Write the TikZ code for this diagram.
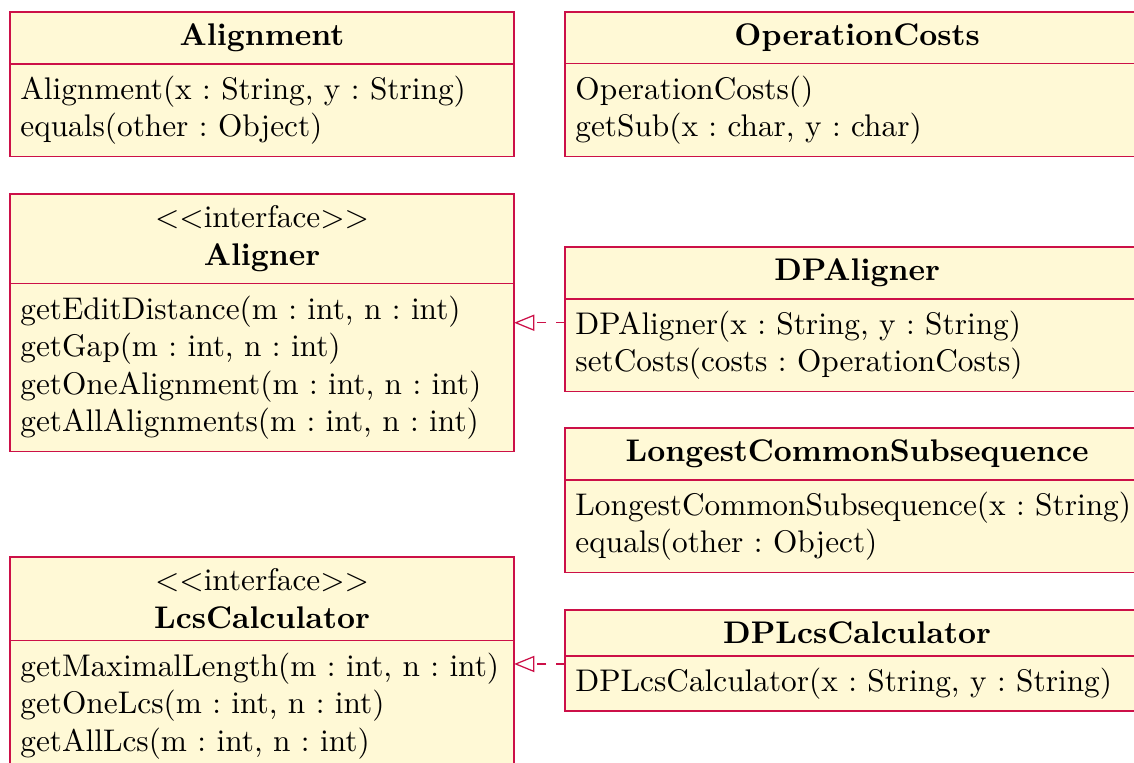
\documentclass[tikz,border=0pt]{standalone}
\usepackage{amsmath,amssymb}
\usepackage{xcolor}
\usepackage{tikz}
\usetikzlibrary{shapes, positioning, calc, arrows.meta}
\definecolor{umlfill}{RGB}{255,249,214}
\definecolor{umldraw}{RGB}{204,16,72}
\newlength{\LeftWidth}
\setlength\LeftWidth{154.4pt}
\newlength{\RightWidth}
\setlength\RightWidth{180pt}
\frenchspacing

\begin{document}
\begin{tikzpicture}[
    x = 0.3195pt, y = -0.3195pt,
    classhead/.style = {
      rectangle, draw = umldraw, fill = umlfill, thin, outer sep = 0pt,
      inner xsep = 3.33pt, inner ysep = 3.8pt,
      align = center, anchor = north west, text width = #1
    },
    classbody/.style = {
      rectangle, draw = umldraw, fill = umlfill, thin, outer sep = 0pt,
      inner xsep = 3.33pt, inner ysep = 3.8pt,
      align = left, text width = #1
    },
    realize/.style = {
      draw = umldraw, thin, dashed,
      -{Triangle[open, length = 6.5pt, width = 5.2pt]}
    },
    ]

    \useasboundingbox (0,0) rectangle (1134,762);
    \clip (0,0) rectangle (1134,762);

    % left column
    \node  [classhead = \LeftWidth]  (alignment)  at (10,12)  {\textbf{Alignment}};
    \node  [classbody = \LeftWidth]  (alignment_ops)  [below = 0pt of alignment]
      {Alignment(x : String, y : String)\\ equals(other : Object)};

    \node  [classhead = \LeftWidth]  (aligner)  at (10,194)
      {$<<$interface$>>$\\ \textbf{Aligner}};
    \node  [classbody = \LeftWidth]  (aligner_ops)  [below = 0pt of aligner]
      {getEditDistance(m : int, n : int)\\ getGap(m : int, n : int)\\
       getOneAlignment(m : int, n : int)\\ getAllAlignments(m : int, n : int)};

    \node  [classhead = \LeftWidth]  (lcscalc)  at (10,557)
      {$<<$interface$>>$\\ \textbf{LcsCalculator}};
    \node  [classbody = \LeftWidth]  (lcscalc_ops)  [below = 0pt of lcscalc]
      {getMaximalLength(m : int, n : int)\\ getOneLcs(m : int, n : int)\\
       getAllLcs(m : int, n : int)};

    % right column
    \node  [classhead = \RightWidth]  (opcosts)  at (565,12)  {\textbf{OperationCosts}};
    \node  [classbody = \RightWidth]  (opcosts_ops)  [below = 0pt of opcosts]
      {OperationCosts()\\ getSub(x : char, y : char)};

    \node  [classhead = \RightWidth]  (dpaligner)  at (565,247)  {\textbf{DPAligner}};
    \node  [classbody = \RightWidth]  (dpaligner_ops)  [below = 0pt of dpaligner]
      {DPAligner(x : String, y : String)\\ setCosts(costs : OperationCosts)};

    \node  [classhead = \RightWidth]  (lcs)  at (565,428)  {\textbf{LongestCommonSubsequence}};
    \node  [classbody = \RightWidth]  (lcs_ops)  [below = 0pt of lcs]
      {LongestCommonSubsequence(x : String)\\ equals(other : Object)};

    \node  [classhead = \RightWidth]  (dplcs)  at (565,610)  {\textbf{DPLcsCalculator}};
    \node  [classbody = \RightWidth]  (dplcs_ops)  [below = 0pt of dplcs]
      {DPLcsCalculator(x : String, y : String)};

    % draw realizations
    \coordinate  (aligner_c)  at ($(aligner.north)!.5!(aligner_ops.south)$);
    \coordinate  (lcscalc_c)  at ($(lcscalc.north)!.5!(lcscalc_ops.south)$);
    \draw  [realize]  (dpaligner.west |- aligner_c)  --  (aligner_c -| aligner_ops.east);
    \draw  [realize]  (dplcs.west |- lcscalc_c)  --  (lcscalc_c -| lcscalc_ops.east);

\end{tikzpicture}
\end{document}
